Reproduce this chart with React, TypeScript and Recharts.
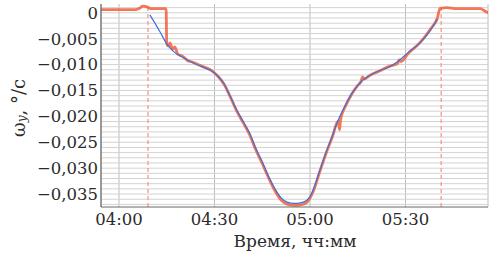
import { LineChart, Line, XAxis, YAxis, CartesianGrid, ReferenceLine } from 'recharts';

// minutes after 04:00
const modelTime = [9.7, 11, 13, 15, 17, 20, 23, 26, 29, 31, 33, 35, 37, 39, 41, 43, 45, 47, 49, 51, 53, 55, 57, 59, 61, 63, 65, 67, 69, 71, 73, 75, 77, 79, 82, 85, 88, 91, 94, 96, 98, 100];
const modelRate = [
  -0.0004, -0.0017, -0.0038, -0.006, -0.0074, -0.0086, -0.0096, -0.0104, -0.0112, -0.0122, -0.0137,
  -0.0162, -0.0188, -0.021, -0.0232, -0.0262, -0.0288, -0.0316, -0.034, -0.0358, -0.0366, -0.0368,
  -0.0367, -0.0362, -0.0342, -0.0306, -0.027, -0.0238, -0.0205, -0.018, -0.0157, -0.014, -0.0128,
  -0.012, -0.0111, -0.0104, -0.0092, -0.0076, -0.0061, -0.0048, -0.0032, -0.0012,
];

const measTime = [
  -5.6, 0, 5, 6.5, 7.5, 9, 10, 14.8, 15, 15.5, 16, 16.8, 17.5, 18.5, 20, 21.5, 23, 26, 29, 31, 33, 35, 37,
  39, 41, 43, 45, 47, 49, 51, 53, 55, 57, 59, 61, 63, 65, 67, 68.8, 69.3, 69.6, 71, 73, 75, 76, 76.5, 77,
  79, 82, 85, 87.5, 88, 88.6, 91, 94, 96, 98, 100, 100.8, 103, 106, 110, 113.5, 115, 116,
];
const measRate = [
  0.0006, 0.0006, 0.0006, 0.0009, 0.0013, 0.0011, 0.0008, 0.0008, -0.006, -0.0064, -0.0058, -0.007,
  -0.0066, -0.008, -0.0084, -0.0092, -0.0095, -0.0103, -0.0111, -0.0122, -0.0138, -0.0163, -0.019,
  -0.0212, -0.0235, -0.0265, -0.0291, -0.0319, -0.0344, -0.0362, -0.037, -0.0372, -0.0371, -0.0366,
  -0.0345, -0.0308, -0.0272, -0.024, -0.0209, -0.0226, -0.0206, -0.0182, -0.0158, -0.014, -0.0133,
  -0.0124, -0.0128, -0.012, -0.0112, -0.0103, -0.0098, -0.0091, -0.0094, -0.0077, -0.0061, -0.0047,
  -0.003, -0.001, 0.0008, 0.001, 0.0008, 0.0008, 0.0008, 0.0003, 0.0,
];

const xTicks = [0, 30, 60, 90];
const yTicks = [0, -0.005, -0.01, -0.015, -0.02, -0.025, -0.03, -0.035];
const markerTimes = [9.1, 101.2];

const modelData = modelTime.map((t, i) => ({ t, v: modelRate[i] }));
const measData = measTime.map((t, i) => ({ t, v: measRate[i] }));
const minorY = Array.from({ length: 39 }, (_, i) => Math.round((0.001 - i * 0.001) * 1000) / 1000);

const FONT = '"DejaVu Serif", serif';
const INK = '#2b2b2b';

const fmtTime = (m: number) => {
  const total = 240 + m;
  const h = Math.floor(total / 60);
  const mm = total % 60;
  return `${String(h).padStart(2, '0')}:${String(mm).padStart(2, '0')}`;
};
const fmtRate = (v: number) => (v === 0 ? '0' : '\u2212' + Math.abs(v).toFixed(3).replace('.', ','));

export default function App() {
  return (
    <div style={{ position: 'absolute', left: 0, top: 0, width: 494, height: 256, background: '#fff' }}>
      <LineChart width={494} height={256} margin={{ top: 4, right: 6, left: 0, bottom: 0 }}>
        {minorY.map((y) => (
          <ReferenceLine key={`m${y}`} y={y} stroke="#d2d2d2" strokeWidth={1} ifOverflow="hidden" />
        ))}
        <CartesianGrid horizontal={false} stroke="#bdbdbd" strokeWidth={1} />
        <XAxis
          type="number"
          dataKey="t"
          domain={[-5.65, 115.9]}
          ticks={xTicks}
          tickFormatter={fmtTime}
          allowDataOverflow
          height={49}
          stroke="#666"
          tickLine={false}
          tickSize={0}
          tickMargin={6}
          tick={{ fill: INK, fontFamily: FONT, fontSize: 16.5 }}
        />
        <XAxis
          xAxisId="top"
          orientation="top"
          type="number"
          domain={[-5.65, 115.9]}
          ticks={xTicks}
          allowDataOverflow
          height={0}
          stroke="#777"
          tickSize={-4}
          tickFormatter={() => ''}
        />
        <YAxis
          type="number"
          domain={[-0.0375, 0.0017]}
          ticks={yTicks}
          tickFormatter={fmtRate}
          allowDataOverflow
          width={101}
          stroke="#555"
          tickLine={false}
          tickSize={0}
          tickMargin={3}
          tick={{ fill: INK, fontFamily: FONT, fontSize: 16.5 }}
        />
        <YAxis
          yAxisId="right"
          orientation="right"
          type="number"
          domain={[-0.0375, 0.0017]}
          ticks={yTicks}
          allowDataOverflow
          width={0}
          stroke="#777"
          tickSize={-4}
          tickFormatter={() => ''}
        />
        {markerTimes.map((x) => (
          <ReferenceLine key={`r${x}`} x={x} stroke="#f29a88" strokeWidth={1.3} strokeDasharray="4 3" />
        ))}
        <Line
          data={measData}
          dataKey="v"
          type="monotone"
          stroke="#f0603c"
          strokeOpacity={0.85}
          strokeWidth={2.8}
          dot={false}
          isAnimationActive={false}
        />
        <Line
          data={modelData}
          dataKey="v"
          type="monotone"
          stroke="#3f6fd6"
          strokeWidth={1.2}
          dot={false}
          isAnimationActive={false}
        />
        <text x={18} y={108} transform="rotate(-90 18 108)" textAnchor="middle" dominantBaseline="central"
          fontFamily={FONT} fontSize={18} fill={INK}>
          ω<tspan fontStyle="italic" fontSize={12} dy={4}>y</tspan>
          <tspan dy={-4}>, °/с</tspan>
        </text>
        <text x={295} y={247} textAnchor="middle" fontFamily={FONT} fontSize={17} fill={INK}>
          Время, чч:мм
        </text>
      </LineChart>
    </div>
  );
}
